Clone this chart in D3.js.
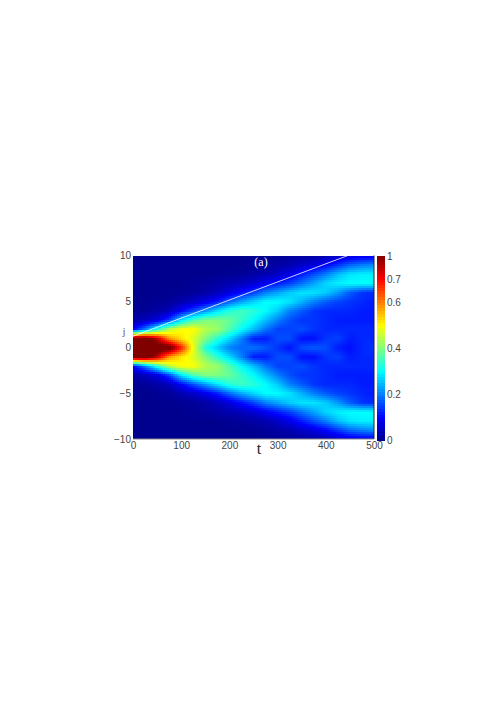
<!DOCTYPE html>
<html><head><meta charset="utf-8">
<script src="https://cdn.jsdelivr.net/npm/d3@7"></script>
<style>html,body{margin:0;padding:0;background:#fff}svg{display:block}
text{font-family:"Liberation Sans",Arial,sans-serif}</style></head>
<body><svg id="c" width="496" height="702"></svg>
<script>
const timeSteps=[0,25,50,75,100,125,150,175,200,225,250,275,300,325,350,375,400,425,450,475,500];
const sites=[10,9,8,7,6,5,4,3,2,1,0,-1,-2,-3,-4,-5,-6,-7,-8,-9,-10];
const xTicks=[0,100,200,300,400,500];
const yTicks=[-10,-5,0,5,10];
const barTicks=[0,.2,.4,.6,.7,.8];
const barLabels=["0","0.2","0.4","0.6","0.7","1"];
const density=[
[0,0,0,0,0,0,0,0,0,0,0,0,.005,.01,.015,.02,.03,.05,.07,.08,.08],
[0,0,0,0,0,0,0,0,0,0,.005,.01,.02,.03,.05,.07,.1,.14,.18,.2,.21],
[0,0,0,0,0,0,0,0,.005,.01,.02,.03,.05,.08,.12,.16,.2,.25,.28,.29,.29],
[0,0,0,0,0,.005,.01,.02,.03,.04,.06,.09,.12,.15,.19,.23,.27,.29,.3,.3,.3],
[0,0,0,0,.005,.01,.02,.04,.07,.11,.15,.2,.23,.26,.28,.28,.26,.22,.17,.14,.13],
[0,0,.005,.01,.03,.05,.08,.12,.18,.23,.27,.3,.3,.28,.24,.2,.17,.15,.14,.13,.12],
[0,.01,.02,.04,.1,.16,.22,.28,.33,.35,.33,.3,.26,.2,.17,.14,.13,.13,.13,.12,.12],
[.02,.04,.07,.15,.28,.36,.4,.4,.38,.34,.3,.25,.2,.16,.14,.14,.13,.12,.12,.12,.12],
[.1,.2,.33,.45,.5,.5,.44,.42,.36,.3,.25,.19,.15,.15,.16,.14,.13,.13,.13,.13,.13],
[.85,.85,.75,.58,.52,.47,.4,.33,.27,.2,.12,.12,.16,.16,.11,.11,.14,.15,.12,.13,.13],
[.9,.9,.85,.85,.68,.48,.32,.26,.2,.18,.19,.17,.14,.11,.16,.17,.16,.12,.11,.13,.14],
[.85,.85,.75,.58,.52,.47,.4,.33,.27,.2,.12,.12,.16,.16,.11,.11,.14,.15,.12,.13,.13],
[.1,.2,.33,.45,.5,.5,.44,.42,.36,.3,.25,.19,.15,.15,.16,.14,.13,.13,.13,.13,.13],
[.02,.04,.07,.15,.28,.36,.4,.4,.38,.34,.3,.25,.2,.16,.14,.14,.13,.12,.12,.12,.12],
[0,.01,.02,.04,.1,.16,.22,.28,.33,.35,.33,.3,.26,.2,.17,.14,.13,.13,.13,.12,.12],
[0,0,.005,.01,.03,.05,.08,.12,.18,.23,.27,.3,.3,.28,.24,.2,.17,.15,.14,.13,.12],
[0,0,0,0,.005,.01,.02,.04,.07,.11,.15,.2,.23,.26,.28,.28,.26,.22,.17,.14,.13],
[0,0,0,0,0,.005,.01,.02,.03,.04,.06,.09,.12,.15,.19,.23,.27,.29,.3,.3,.3],
[0,0,0,0,0,0,0,0,.005,.01,.02,.03,.05,.08,.12,.16,.2,.25,.28,.29,.29],
[0,0,0,0,0,0,0,0,0,0,.005,.01,.02,.03,.05,.07,.1,.14,.18,.2,.21],
[0,0,0,0,0,0,0,0,0,0,0,0,.005,.01,.015,.02,.03,.05,.07,.08,.08]
];
const guideT=[0,446];
const guideJ=[1.2,10];

const svg=d3.select("#c");
const P={l:133,r:374,t:255.5,b:439};
const x=d3.scaleLinear([0,500],[P.l,P.r]);
const y=d3.scaleLinear([-10,10],[P.b,P.t]);
const barY=d3.scaleLinear([0,.8],[440,256]);
const jet=d3.scaleLinear([0,.1,.3,.5,.7,.8],
 ["rgb(0,0,143)","rgb(0,0,255)","rgb(0,255,255)","rgb(255,255,0)","rgb(255,0,0)","rgb(128,0,0)"]).clamp(true);

const ti=d3.scaleLinear(timeSteps,timeSteps.map((_,i)=>i)).clamp(true);
const si=d3.scaleLinear(sites,sites.map((_,i)=>i)).clamp(true);
function shade(t,j){
  const a=ti(t),b=si(j),i=Math.min(Math.floor(a),timeSteps.length-2),k=Math.min(Math.floor(b),sites.length-2);
  const u=a-i,v=b-k;
  return (density[k][i]*(1-u)+density[k][i+1]*u)*(1-v)+(density[k+1][i]*(1-u)+density[k+1][i+1]*u)*v;
}
const step=2, tiles=[];
for(let px=P.l;px<P.r;px+=step)for(let py=P.t;py<P.b;py+=step)
  tiles.push({px,py,v:shade(x.invert(px+step/2),y.invert(py+step/2))});
svg.append("g").attr("shape-rendering","crispEdges").selectAll("rect").data(tiles).join("rect")
 .attr("x",d=>d.px).attr("y",d=>d.py).attr("width",d=>Math.min(step+.5,P.r-d.px)).attr("height",d=>Math.min(step+.5,P.b-d.py)).attr("fill",d=>jet(d.v));

svg.append("line").attr("x1",x(guideT[0])).attr("y1",y(guideJ[0])).attr("x2",x(guideT[1])).attr("y2",y(guideJ[1]))
 .attr("stroke","#fff").attr("stroke-width",1).attr("opacity",.8);

svg.append("line").attr("x1",P.r).attr("x2",P.r).attr("y1",P.t).attr("y2",P.b).attr("stroke","#222").attr("stroke-width",1);
svg.append("line").attr("x1",P.l).attr("x2",P.r).attr("y1",P.b).attr("y2",P.b).attr("stroke","#888").attr("stroke-width",1);

const ink="#444";
const ax=svg.append("g").attr("transform",`translate(0,${P.b})`).call(d3.axisBottom(x).tickValues(xTicks).tickSize(0).tickPadding(3).tickFormat(d3.format("d")));
const ay=svg.append("g").attr("transform",`translate(${P.l},0)`).call(d3.axisLeft(y).tickValues(yTicks).tickSize(0).tickPadding(2).tickFormat(d3.format("d")));
[ax,ay].forEach(g=>{g.select(".domain").remove();g.selectAll("text").attr("font-size",10).attr("fill",ink).style("font-family",'"Liberation Sans",Arial,sans-serif');});

const levels=d3.range(64).map(i=>i/64*.8);
svg.append("g").attr("shape-rendering","crispEdges").selectAll("rect").data(levels).join("rect")
 .attr("x",377).attr("width",8).attr("y",d=>barY(d+.8/64)).attr("height",d=>barY(d)-barY(d+.8/64)+.5).attr("fill",d=>jet(d+.4/64));
const ac=svg.append("g").attr("transform","translate(385,0)").call(d3.axisRight(barY).tickValues(barTicks).tickSize(0).tickPadding(2).tickFormat((d,i)=>barLabels[i]));
ac.select(".domain").remove();
ac.selectAll("text").attr("font-size",10).attr("fill",ink).style("font-family",'"Liberation Sans",Arial,sans-serif');

const serif='"Liberation Serif","Times New Roman",serif';
svg.append("text").attr("x",261).attr("y",266).attr("text-anchor","middle").attr("font-size",12).attr("fill","#fff").style("font-family",serif).text("(a)");
svg.append("text").attr("x",259).attr("y",454).attr("text-anchor","middle").attr("font-size",16).attr("fill","#222").style("font-family",serif).text("t");
svg.append("text").attr("x",124).attr("y",335).attr("text-anchor","middle").attr("font-size",11).attr("fill","#666").style("font-family",serif).text("j");
</script></body></html>
